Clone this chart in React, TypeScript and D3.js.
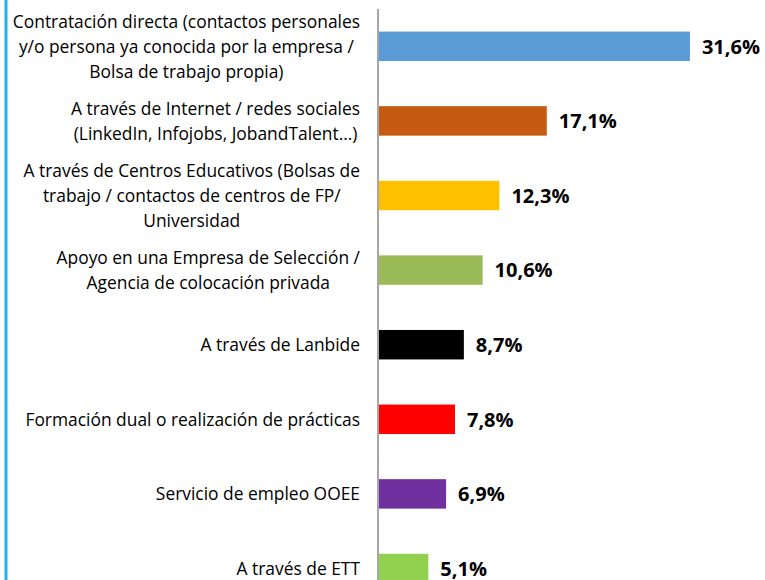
import React, { useMemo } from "react";
import * as d3 from "d3";

const categories: string[][] = [
  ["Contratación directa (contactos personales", "y/o persona ya conocida por la empresa /", "Bolsa de trabajo propia)"],
  ["A través de Internet / redes sociales", "(LinkedIn, Infojobs, JobandTalent…)"],
  ["A través de Centros Educativos (Bolsas de", "trabajo / contactos de centros de FP/", "Universidad"],
  ["Apoyo en una Empresa de Selección /", "Agencia de colocación privada"],
  ["A través de Lanbide"],
  ["Formación dual o realización de prácticas"],
  ["Servicio de empleo OOEE"],
  ["A través de ETT"],
];
const values: number[] = [31.6, 17.1, 12.3, 10.6, 8.7, 7.8, 6.9, 5.1];
const colors: string[] = ["#5b9bd5", "#c55a11", "#ffc000", "#9bbb59", "#000000", "#ff0000", "#7030a0", "#92d050"];

const W = 765;
const H = 580;
const LABEL_SIZE = 17.4;
const VALUE_SIZE = 20;
const LABEL_FONT = `${LABEL_SIZE}px 'Open Sans'`;

function measure(text: string, font: string): number {
  const c = document.createElement("canvas");
  const ctx = c.getContext("2d")!;
  ctx.font = font;
  return ctx.measureText(text).width;
}

export default function App() {
  const ids = values.map((_, i) => String(i));
  const y = d3.scaleBand<string>().domain(ids).range([9, 9 + 8 * 74.6]).paddingInner(0.605).paddingOuter(0.3025);
  const x = d3.scaleLinear().domain([0, 35]).range([378, 378 + 35 * 9.87]);
  const lineH = 25;
  const labelRight = 360;

  const widths = useMemo(() => categories.map((lines) => Math.max(...lines.map((l) => measure(l, LABEL_FONT)))), []);

  return (
    <svg width={W} height={H} style={{ position: "absolute", left: 0, top: 0, overflow: "hidden" }} fontFamily="'Open Sans', sans-serif">
      <rect x={0} y={0} width={W} height={H} fill="#ffffff" />
      <line x1={6} x2={6} y1={0} y2={H} stroke="#1fb1ee" strokeWidth={3} />
      {values.map((v, i) => {
        const yc = (y(ids[i]) as number) + y.bandwidth() / 2;
        const lines = categories[i];
        const cx = labelRight - widths[i] / 2;
        const multi = lines.length > 1;
        return (
          <g key={i}>
            <rect x={x(0)} y={y(ids[i])} width={x(v) - x(0)} height={y.bandwidth()} fill={colors[i]} />
            <text x={x(v) + 12} y={yc} dy="0.36em" fontSize={VALUE_SIZE} fontWeight="bold" fill="#000">
              {d3.format(".1f")(v).replace(".", ",") + "%"}
            </text>
            {lines.map((l, j) => (
              <text
                key={j}
                x={multi ? cx : labelRight}
                y={yc + (j - (lines.length - 1) / 2) * lineH}
                dy="0.36em"
                textAnchor={multi ? "middle" : "end"}
                fontSize={LABEL_SIZE}
                fill="#000"
              >
                {l}
              </text>
            ))}
          </g>
        );
      })}
      <line x1={x(0)} x2={x(0)} y1={9} y2={H} stroke="#a6a6a6" strokeWidth={2} />
    </svg>
  );
}
